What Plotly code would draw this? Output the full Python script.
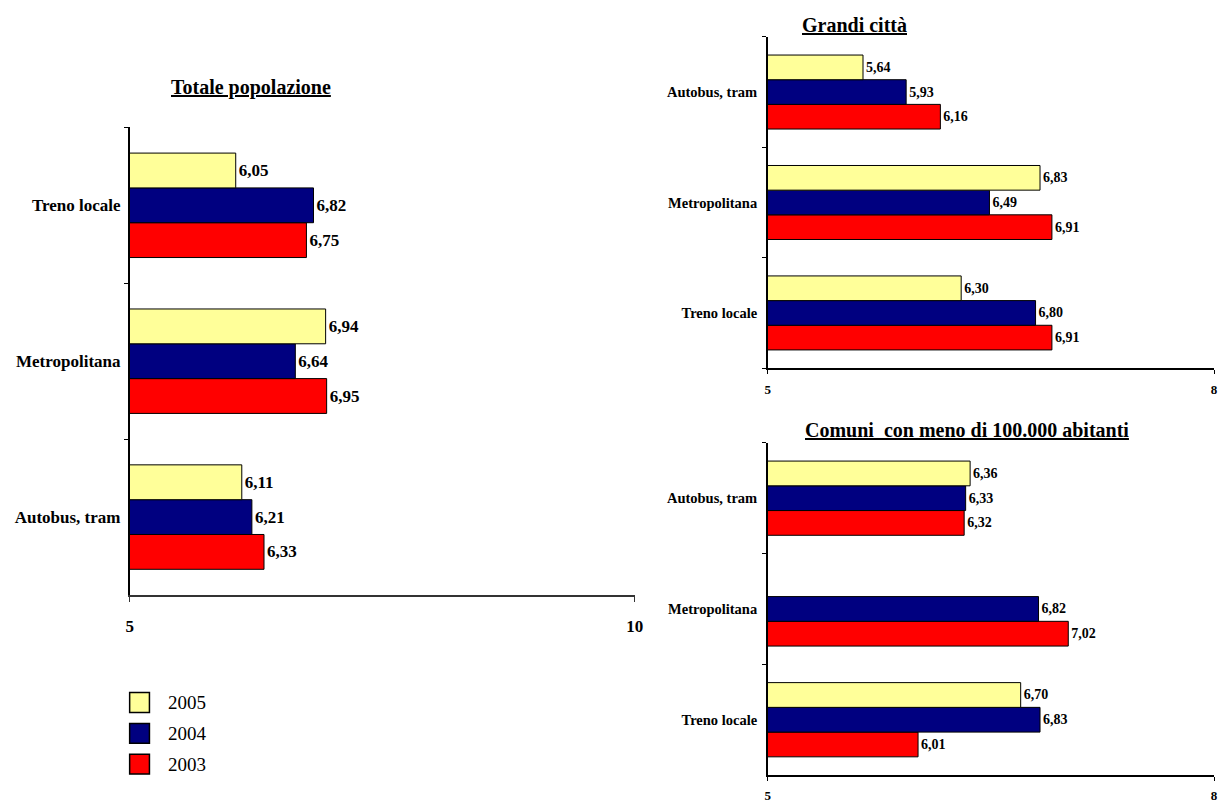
import plotly.graph_objects as go

# Voti medi per mezzo di trasporto, per anno
years = ["2003", "2004", "2005"]
colors = {"2005": "#FFFF99", "2004": "#000080", "2003": "#FF0000"}

# Totale popolazione (dal basso verso l'alto)
cat_tot = ["Autobus, tram", "Metropolitana", "Treno locale"]
tot_2005 = [6.11, 6.94, 6.05]
tot_2004 = [6.21, 6.64, 6.82]
tot_2003 = [6.33, 6.95, 6.75]

# Grandi città (dal basso verso l'alto)
cat_gc = ["Treno locale", "Metropolitana", "Autobus, tram"]
gc_2005 = [6.30, 6.83, 5.64]
gc_2004 = [6.80, 6.49, 5.93]
gc_2003 = [6.91, 6.91, 6.16]

# Comuni con meno di 100.000 abitanti (dal basso verso l'alto)
cat_cm = ["Treno locale", "Metropolitana", "Autobus, tram"]
cm_2005 = [6.70, None, 6.36]
cm_2004 = [6.83, 6.82, 6.33]
cm_2003 = [6.01, 7.02, 6.32]

W, H = 1227, 803
SERIF = "Liberation Serif"


def px(x):
    return x / W


def py(y):
    return 1 - y / H


fig = go.Figure()

panels = [
    ("x", "y", cat_tot, {"2005": tot_2005, "2004": tot_2004, "2003": tot_2003}, 17),
    ("x2", "y2", cat_gc, {"2005": gc_2005, "2004": gc_2004, "2003": gc_2003}, 14),
    ("x3", "y3", cat_cm, {"2005": cm_2005, "2004": cm_2004, "2003": cm_2003}, 14),
]

for xa, ya, cats, series, fsize in panels:
    for yr in years:
        fig.add_trace(go.Bar(
            y=cats, x=series[yr], orientation="h", base=0,
            name=yr, xaxis=xa, yaxis=ya, showlegend=False,
            marker=dict(color=colors[yr], line=dict(color="#000000", width=1)),
            texttemplate="%{x:.2f}", textposition="outside",
            textfont=dict(family=SERIF, size=fsize, color="#000000", weight="bold"),
            cliponaxis=False,
        ))


def xaxis_cfg(dom, rng, anchor, fsize, standoff, lcolor, lwidth, ticklen):
    return dict(domain=dom, range=rng, tickvals=list(rng), ticks="outside",
                ticklen=ticklen, tickcolor=lcolor, ticklabelstandoff=standoff,
                tickfont=dict(family=SERIF, size=fsize, color="#000000", weight="bold"),
                anchor=anchor, showgrid=False, zeroline=False, showline=True,
                linecolor=lcolor, linewidth=lwidth)


def yaxis_cfg(dom, cats, anchor, fsize, standoff):
    return dict(domain=dom, type="category", categoryarray=cats, range=[-0.5, 2.5],
                ticks="outside", ticklen=4, tickson="boundaries", tickcolor="#000000",
                ticklabelstandoff=standoff,
                tickfont=dict(family=SERIF, size=fsize, color="#000000", weight="bold"),
                anchor=anchor, showgrid=False, zeroline=False, showline=True,
                linecolor="#000000", linewidth=1.5)


fig.update_layout(
    width=W, height=H,
    margin=dict(l=0, r=0, t=0, b=0),
    paper_bgcolor="white", plot_bgcolor="white",
    barmode="group", bargap=0.33, bargroupgap=0,
    separators=",.",
    showlegend=False,
    font=dict(family=SERIF),
    xaxis=xaxis_cfg([px(127), px(637.5)], [5, 10], "y", 17, 10, "#333333", 2, 5),
    yaxis=yaxis_cfg([py(598), py(128)], cat_tot, "x", 17, 4),
    xaxis2=xaxis_cfg([px(772), px(1223)], [5, 8], "y2", 13, 4, "#000000", 1.5, 4),
    yaxis2=yaxis_cfg([py(370), py(37)], cat_gc, "x2", 14.5, 6),
    xaxis3=xaxis_cfg([px(772), px(1223)], [5, 8], "y3", 13, 4, "#000000", 1.5, 4),
    yaxis3=yaxis_cfg([py(779), py(445)], cat_cm, "x3", 14.5, 6),
)

# Titoli dei pannelli, sottolineati
titles = [
    ("Totale popolazione", 250, 88),
    ("Grandi città", 860, 25),
    ("Comuni  con meno di 100.000 abitanti", 973, 432),
]
for txt, x, y in titles:
    fig.add_annotation(
        text=f'<span style="text-decoration:underline">{txt}</span>',
        x=px(x), y=py(y), xref="paper", yref="paper", showarrow=False,
        xanchor="center", yanchor="middle",
        font=dict(family=SERIF, size=20, color="#000000", weight="bold"),
    )

# Legenda
legend_items = [("2005", 706), ("2004", 737), ("2003", 768)]
for yr, yc in legend_items:
    fig.add_shape(type="rect", xref="paper", yref="paper",
                  x0=px(127), x1=px(147), y0=py(yc + 10), y1=py(yc - 10),
                  fillcolor=colors[yr], line=dict(color="#000000", width=1.5))
    fig.add_annotation(text=yr, x=px(164), y=py(yc), xref="paper", yref="paper",
                       showarrow=False, xanchor="left", yanchor="middle",
                       font=dict(family=SERIF, size=19, color="#000000"))

fig.write_html("out.html")
